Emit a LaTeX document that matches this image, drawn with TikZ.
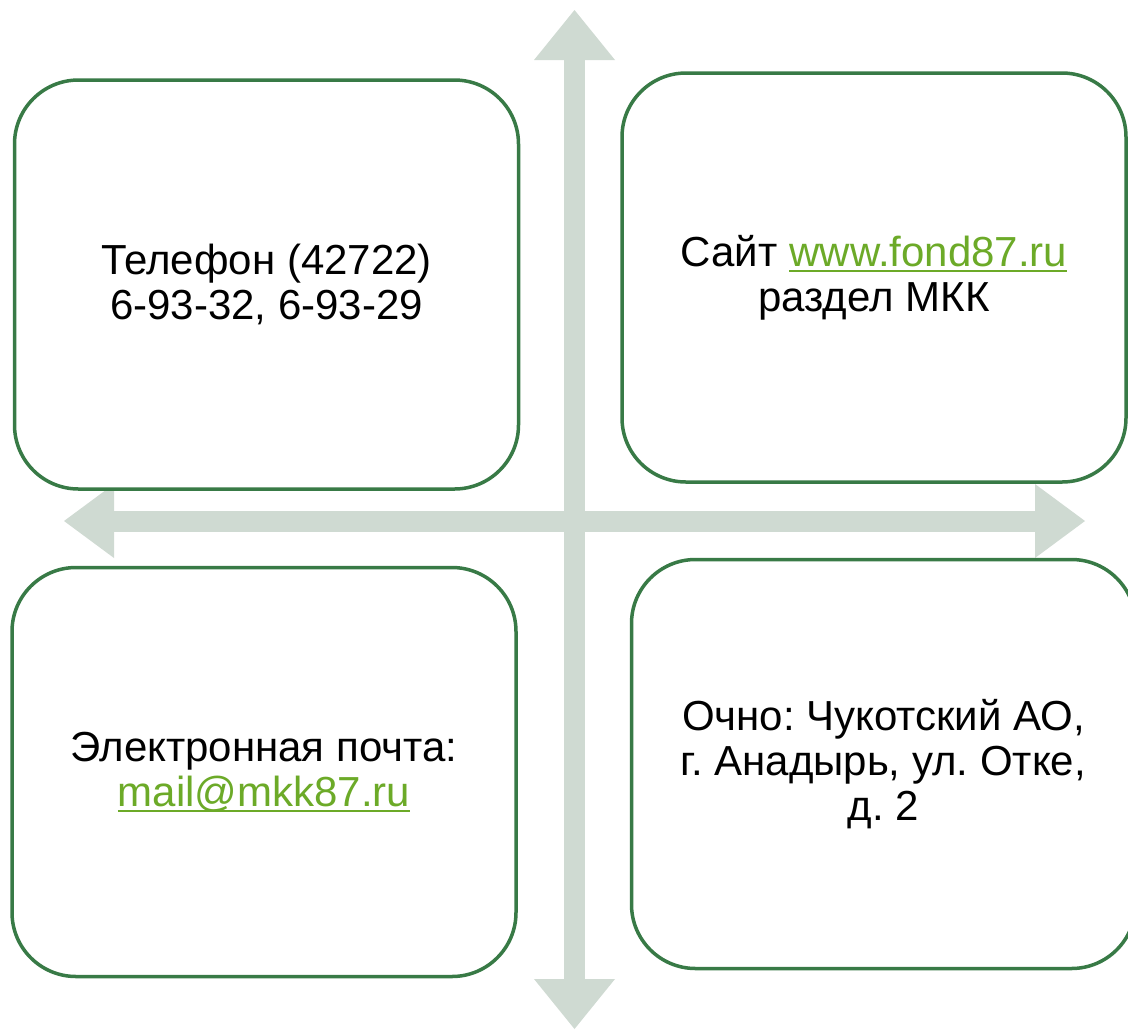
\documentclass[tikz,border=0pt]{standalone}
\usepackage{fontspec}
\setmainfont{Liberation Sans}
\usetikzlibrary{arrows.meta}
\definecolor{frameColor}{RGB}{56, 122, 70}
\definecolor{crossColor}{RGB}{207, 218, 210}
\definecolor{linkColor}{RGB}{108, 170, 40}
\newcommand{\weblink}[1]{\textcolor{linkColor}{\setbox0\hbox{#1}\rlap{\rule[-6pt]{\wd0}{2pt}}\box0}}

\begin{document}
\begin{tikzpicture}[
    x = 1pt, y = -1pt,
    card/.style = {draw = frameColor, line width = 3.5pt, fill = white,
        rounded corners = 64pt, minimum width = 504pt, minimum height = 409pt,
        inner sep = 0pt, align = center, font = \fontsize{42}{45}\selectfont\frenchspacing},
    cross/.style = {crossColor, line width = 21pt,
        arrows = {Triangle[width = #1, length = 50pt, line width = 0pt]-Triangle[width = #1, length = 50pt, line width = 0pt]}}
  ]
  \useasboundingbox (0,0) rectangle (1128,1029);

  \coordinate (top) at (574.5,10);
  \coordinate (bottom) at (574.5,1029);
  \coordinate (left) at (64,521);
  \coordinate (right) at (1085,521);
  \draw[cross=81pt] (top) -- (bottom);
  \draw[cross=74pt] (left) -- (right);

  \node[card] (phone) at (266.5,284.5) {Телефон (42722)\\6-93-32, 6-93-29};
  \node[card] (site) at (874,277.5) {Сайт \weblink{www.fond87.ru}\\раздел МКК};
  \node[card] (mail) at (264,772) {Электронная почта:\\\weblink{mail@mkk87.ru}};
  \node[card] (visit) at (883.5,764) {Очно: Чукотский АО,\\г. Анадырь, ул. Отке,\\д. 2};
\end{tikzpicture}
\end{document}
